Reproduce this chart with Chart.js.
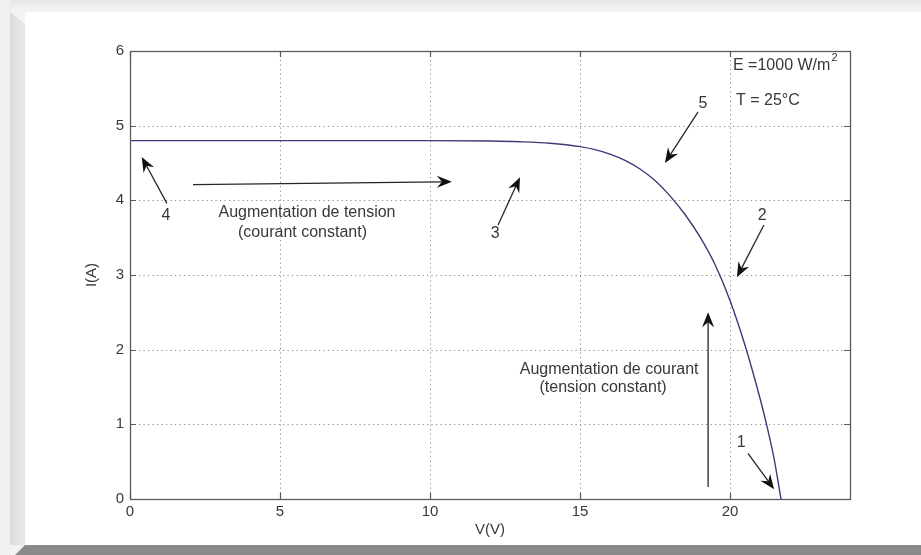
<!DOCTYPE html>
<html>
<head>
<meta charset="utf-8">
<script src="https://cdn.jsdelivr.net/npm/chart.js@4.4.1/dist/chart.umd.min.js"></script>
<style>
  html,body{margin:0;padding:0;width:921px;height:555px;overflow:hidden;background:#f3f3f3;}
  #top{position:absolute;left:0;top:0;width:921px;height:12px;background:linear-gradient(#e6e6e6,#f5f5f5);}
  #leftA{position:absolute;left:0;top:0;width:10px;height:555px;background:#f1f1f1;}
  #leftB{position:absolute;left:10px;top:12px;width:15px;height:533px;background:linear-gradient(90deg,#dcdcdc,#e8e8e8);clip-path:polygon(0 0,100% 12px,100% 100%,0 100%);}
  #panel{position:absolute;left:25px;top:12px;width:896px;height:533px;background:#ffffff;}
  #bottom{position:absolute;left:15px;top:545px;width:906px;height:10px;background:#8a8a8a;clip-path:polygon(10px 0,100% 0,100% 100%,0 100%);}
  #c{position:absolute;left:0;top:0;}
</style>
</head>
<body>
<div id="top"></div><div id="leftA"></div><div id="leftB"></div><div id="panel"></div><div id="bottom"></div>
<canvas id="c" width="921" height="555"></canvas>
<script>
// ---- data ----
const voltage = [0, 2, 4, 6, 8, 10, 12, 13, 14, 15, 15.5, 16, 16.5, 17, 17.5, 18, 18.5, 19, 19.5, 20, 20.5, 21, 21.2, 21.45, 21.7];
const current = [4.8, 4.8, 4.8, 4.8, 4.8, 4.8, 4.795, 4.785, 4.765, 4.72, 4.68, 4.62, 4.535, 4.42, 4.265, 4.06, 3.81, 3.51, 3.14, 2.66, 2.06, 1.35, 1.03, 0.58, 0];
const xTicks = [0, 5, 10, 15, 20];
const yTicks = [0, 1, 2, 3, 4, 5, 6];
const xRange = [0, 24];
const yRange = [0, 6];
const xTitle = 'V(V)';
const yTitle = 'I(A)';
// arrows: [tailV, tailI, tipV, tipI]
const arrows = [
  [1.23, 3.96, 0.39, 4.58],
  [2.1, 4.21, 10.73, 4.25],
  [12.27, 3.67, 13.0, 4.31],
  [18.93, 5.18, 17.83, 4.5],
  [21.13, 3.67, 20.23, 2.97],
  [19.27, 0.16, 19.27, 2.5],
  [20.6, 0.61, 21.47, 0.13]
];
const numLabels = [['4', 1.2, 3.8], ['3', 12.17, 3.56], ['5', 19.1, 5.3], ['2', 21.07, 3.8], ['1', 20.37, 0.75]];
const textBlocks = [
  ['Augmentation de tension', 5.9, 3.83],
  ['(courant constant)', 5.75, 3.57],
  ['Augmentation de courant', 15.97, 1.73],
  ['(tension constant)', 15.77, 1.49]
];
const condText1 = ['E =1000 W/m', '2', 20.1, 5.81];
const condText2 = ['T = 25°C', 20.2, 5.34];

const FONT = "'Liberation Sans', Arial, sans-serif";
const TXT = '#383838';

function drawArrow(ctx, x1, y1, x2, y2) {
  const ang = Math.atan2(y2 - y1, x2 - x1);
  const L = 15, W = 6, notch = 10;
  const bx = x2 - L * Math.cos(ang), by = y2 - L * Math.sin(ang);
  const nx = x2 - notch * Math.cos(ang), ny = y2 - notch * Math.sin(ang);
  ctx.beginPath();
  ctx.moveTo(x1, y1);
  ctx.lineTo(nx, ny);
  ctx.strokeStyle = '#262626';
  ctx.lineWidth = 1.3;
  ctx.stroke();
  ctx.beginPath();
  ctx.moveTo(x2, y2);
  ctx.lineTo(bx + W * Math.sin(ang), by - W * Math.cos(ang));
  ctx.lineTo(nx, ny);
  ctx.lineTo(bx - W * Math.sin(ang), by + W * Math.cos(ang));
  ctx.closePath();
  ctx.fillStyle = '#111111';
  ctx.fill();
}

const framePlugin = {
  id: 'frame',
  beforeDatasetsDraw(chart) {
    const {ctx, chartArea: a, scales: {x, y}} = chart;
    ctx.save();
    ctx.strokeStyle = '#8a8a8a';
    ctx.lineWidth = 1;
    ctx.setLineDash([1.2, 3.3]);
    xTicks.forEach(v => {
      if (v === xRange[0] || v === xRange[1]) return;
      const px = Math.round(x.getPixelForValue(v)) + 0.5;
      ctx.beginPath(); ctx.moveTo(px, a.top); ctx.lineTo(px, a.bottom); ctx.stroke();
    });
    yTicks.forEach(v => {
      if (v === yRange[0] || v === yRange[1]) return;
      const py = Math.round(y.getPixelForValue(v)) + 0.5;
      ctx.beginPath(); ctx.moveTo(a.left, py); ctx.lineTo(a.right, py); ctx.stroke();
    });
    ctx.restore();
  },
  afterDatasetsDraw(chart) {
    const {ctx, chartArea: a, scales: {x, y}} = chart;
    ctx.save();
    ctx.strokeStyle = '#5a5a5a';
    ctx.lineWidth = 1.3;
    ctx.strokeRect(Math.round(a.left) + 0.5, Math.round(a.top) + 0.5, Math.round(a.right - a.left), Math.round(a.bottom - a.top));
    ctx.lineWidth = 1.2;
    const T = 6;
    xTicks.forEach(v => {
      const px = Math.round(x.getPixelForValue(v)) + 0.5;
      ctx.beginPath();
      ctx.moveTo(px, a.bottom); ctx.lineTo(px, a.bottom - T);
      ctx.moveTo(px, a.top); ctx.lineTo(px, a.top + T);
      ctx.stroke();
    });
    yTicks.forEach(v => {
      const py = Math.round(y.getPixelForValue(v)) + 0.5;
      ctx.beginPath();
      ctx.moveTo(a.left, py); ctx.lineTo(a.left + T, py);
      ctx.moveTo(a.right, py); ctx.lineTo(a.right - T, py);
      ctx.stroke();
    });
    arrows.forEach(ar => {
      drawArrow(ctx, x.getPixelForValue(ar[0]), y.getPixelForValue(ar[1]),
                     x.getPixelForValue(ar[2]), y.getPixelForValue(ar[3]));
    });
    ctx.fillStyle = TXT;
    ctx.textBaseline = 'middle';
    ctx.textAlign = 'center';
    ctx.font = '16px ' + FONT;
    numLabels.forEach(l => ctx.fillText(l[0], x.getPixelForValue(l[1]), y.getPixelForValue(l[2])));
    textBlocks.forEach(t => ctx.fillText(t[0], x.getPixelForValue(t[1]), y.getPixelForValue(t[2])));
    ctx.textAlign = 'left';
    const ex = x.getPixelForValue(condText1[2]), ey = y.getPixelForValue(condText1[3]);
    ctx.fillText(condText1[0], ex, ey);
    const w = ctx.measureText(condText1[0]).width;
    ctx.font = '11px ' + FONT;
    ctx.fillText(condText1[1], ex + w + 1, ey - 7);
    ctx.font = '16px ' + FONT;
    ctx.fillText(condText2[0], x.getPixelForValue(condText2[1]), y.getPixelForValue(condText2[2]));
    ctx.textAlign = 'center';
    ctx.font = '15px ' + FONT;
    ctx.fillText(xTitle, (a.left + a.right) / 2, a.bottom + 31);
    ctx.save();
    ctx.translate(a.left - 38, (a.top + a.bottom) / 2);
    ctx.rotate(-Math.PI / 2);
    ctx.fillText(yTitle, 0, 0);
    ctx.restore();
    ctx.restore();
  }
};

new Chart(document.getElementById('c'), {
  type: 'scatter',
  data: {
    datasets: [{
      data: voltage.map((v, i) => ({x: v, y: current[i]})),
      showLine: true,
      borderColor: '#3b3b78',
      borderWidth: 1.4,
      pointRadius: 0,
      cubicInterpolationMode: 'monotone',
      fill: false
    }]
  },
  options: {
    responsive: false,
    animation: false,
    layout: {padding: {left: 0, top: 51, right: 71, bottom: 0}},
    plugins: {legend: {display: false}, tooltip: {enabled: false}},
    scales: {
      x: {
        type: 'linear', min: xRange[0], max: xRange[1],
        afterBuildTicks: s => { s.ticks = xTicks.map(v => ({value: v})); },
        afterFit: s => { s.height = 56; },
        grid: {display: false, drawTicks: false},
        border: {display: false},
        ticks: {color: TXT, font: {family: FONT, size: 15}, padding: 4, maxRotation: 0}
      },
      y: {
        type: 'linear', min: yRange[0], max: yRange[1],
        afterBuildTicks: s => { s.ticks = yTicks.map(v => ({value: v})); },
        afterFit: s => { s.width = 130; },
        grid: {display: false, drawTicks: false},
        border: {display: false},
        ticks: {color: TXT, font: {family: FONT, size: 15}, padding: 6}
      }
    }
  },
  plugins: [framePlugin]
});
</script>
</body>
</html>
